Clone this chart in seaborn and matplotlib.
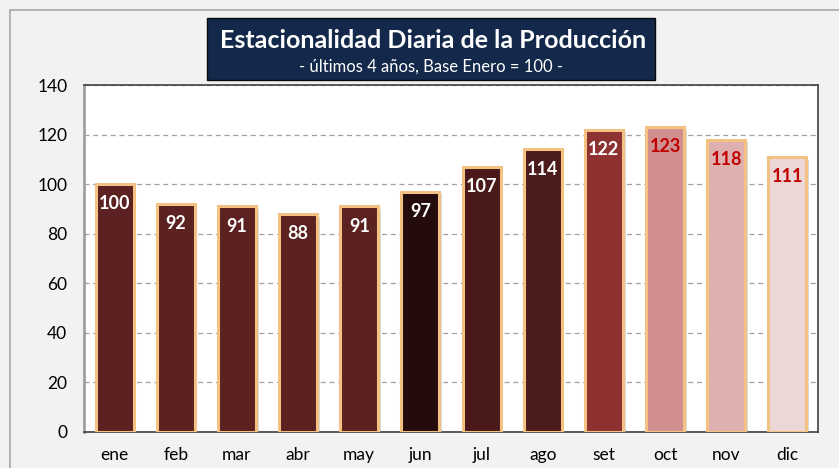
import matplotlib
matplotlib.use("Agg")
import matplotlib.pyplot as plt
import seaborn as sns
import pandas as pd
import matplotlib.patheffects as pe
from matplotlib.patches import Rectangle
from matplotlib.lines import Line2D

months = ["ene", "feb", "mar", "abr", "may", "jun", "jul", "ago", "set", "oct", "nov", "dic"]
values = [100, 92, 91, 88, 91, 97, 107, 114, 122, 123, 118, 111]
bar_colors = ["#5c2121", "#5c2121", "#5c2121", "#5c2121", "#5c2121", "#250c0c",
              "#4a1a1a", "#4c1b1b", "#8e3131", "#d18e8e", "#dfb0b0", "#ecd6d6"]
label_colors = ["white"] * 9 + ["#c00000"] * 3
yticks = [0, 20, 40, 60, 80, 100, 120, 140]
title = "Estacionalidad Diaria de la Producción"
subtitle = "- últimos 4 años, Base Enero = 100 -"

sns.set_theme(style="white")
plt.rcParams["font.family"] = ["Lato", "DejaVu Sans"]

df = pd.DataFrame({"mes": months, "valor": values})

fig = plt.figure(figsize=(8.39, 4.68), dpi=100, facecolor="#f2f2f2")
ax = fig.add_axes([84 / 839, 36 / 468, 734 / 839, 347 / 468])
ax.set_facecolor("white")

sns.barplot(data=df, x="mes", y="valor", hue="mes", palette=bar_colors,
            legend=False, width=0.62, ax=ax, zorder=3,
            edgecolor="#f3c283", linewidth=2.2, saturation=1)

for p in ax.patches:
    p.set_path_effects([pe.SimplePatchShadow(offset=(2, -2), shadow_rgbFace="#999999", alpha=0.35),
                        pe.Normal()])

for i, (v, c) in enumerate(zip(values, label_colors)):
    ax.annotate(str(v), (i, v), xytext=(0, -8), textcoords="offset points",
                ha="center", va="top", color=c, fontsize=13, fontweight="bold", zorder=5)

ax.set_ylim(0, 140)
ax.set_xlim(-0.5, 11.5)
ax.set_yticks(yticks)
ax.set_yticklabels([str(t) for t in yticks])
ax.grid(axis="y", color="#a0a0a0", linestyle=(0, (4, 3)), linewidth=0.9, zorder=0)
ax.set_xlabel("")
ax.set_ylabel("")
ax.tick_params(axis="both", labelsize=12.5, colors="black", length=0, pad=12)
ax.tick_params(axis="x", pad=11)
for s in ax.spines.values():
    s.set_visible(True)
    s.set_color("#404040")
    s.set_linewidth(1.2)
ax.spines["left"].set_color("#a0a0a0")
ax.spines["left"].set_linewidth(2)

# title box
box = Rectangle((207 / 839, 1 - 80 / 468), 448 / 839, 62 / 468, transform=fig.transFigure,
                facecolor="#13284a", edgecolor="#0a0a0a", linewidth=1, zorder=1)
fig.patches.append(box)
fig.text(433 / 839, 1 - 40 / 468, title, ha="center", va="center", color="white",
         fontsize=18, fontweight="bold")
fig.text(431 / 839, 1 - 67 / 468, subtitle, ha="center", va="center", color="white",
         fontsize=12)

# outer frame lines
fig.add_artist(Line2D([10 / 839, 10 / 839], [0, 1 - 10 / 468], transform=fig.transFigure,
                      color="#a8a8a8", linewidth=1.2))
fig.add_artist(Line2D([10 / 839, 1], [1 - 10 / 468, 1 - 10 / 468], transform=fig.transFigure,
                      color="#a8a8a8", linewidth=1.2))

fig.savefig("out.png", dpi=100, facecolor=fig.get_facecolor())
